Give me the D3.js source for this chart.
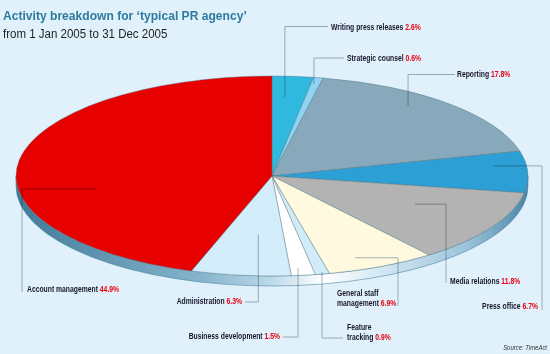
<!DOCTYPE html>
<html>
<head>
<meta charset="utf-8">
<script src="https://cdn.jsdelivr.net/npm/d3@7"></script>
<style>
  html, body { margin: 0; padding: 0; background: #e0f1fc; }
  svg { display: block; font-family: "Liberation Sans Narrow", "Arial Narrow", sans-serif; }
  .lbl { font-size: 8.5px; font-weight: bold; fill: #15152a; }
  .pct { fill: #e8000f; }
  .leader { fill: none; stroke: #a8b4be; stroke-width: 1; mix-blend-mode: multiply; }
</style>
</head>
<body>
<div id="chart"></div>
<script>
// activity shares, clockwise from 12 o'clock
const categories = [
    'Writing press releases', 'Strategic counsel', 'Reporting', 'Press office',
    'Media relations', 'General staff management', 'Feature tracking',
    'Business development', 'Administration', 'Account management'
];
const shares = [2.6, 0.6, 17.8, 6.7, 11.8, 6.9, 0.9, 1.5, 6.3, 44.9];
const sliceColors = ['#30b9de', '#8fd4f2', '#87a9bb', '#2ca0d4', '#b3b3b3',
    '#fffadf', '#d2ebf8', '#ffffff', '#d3edfa', '#e60000'];

const title = 'Activity breakdown for \u2018typical PR agency\u2019';
const subtitle = 'from 1 Jan 2005 to 31 Dec 2005';
const source = 'Source: TimeAct';

// callout layout: t = position inside slice, f = radius fraction,
// elbow 'v' = vertical first, 'h' = horizontal first
const callouts = [
    {t: .39, f: .79, elbow: 'v', end: [328, 26.5], x: 331, y: 29.5, anchor: 'start', lines: 1},
    {t: .34, f: .935, elbow: 'v', end: [344, 58], x: 347, y: 60.5, anchor: 'start', lines: 1},
    {t: .40, f: .88, elbow: 'v', end: [455, 74.5], x: 457, y: 77, anchor: 'start', lines: 1},
    {t: .32, f: .87, elbow: 'h', end: [542, 310], x: 538, y: 309, anchor: 'end', lines: 1},
    {t: .40, f: .625, elbow: 'h', end: [446, 283], x: 450, y: 284, anchor: 'start', lines: 1},
    {t: .65, f: .88, elbow: 'h', end: [398, 306], x: 337, y: 296, anchor: 'start', lines: 2},
    {t: .45, f: .98, elbow: 'v', end: [343, 338], x: 347, y: 330, anchor: 'start', lines: 2},
    {t: .63, f: .925, elbow: 'v', end: [283, 337], x: 280, y: 339, anchor: 'end', lines: 1},
    {t: .42, f: .59, elbow: 'v', end: [245, 302], x: 242, y: 304, anchor: 'end', lines: 1},
    {t: .377, f: .70, elbow: 'h', end: [22, 292], x: 27, y: 292, anchor: 'start', lines: 1}
];

const width = 550, height = 354;
const cx = 272, cy = 176, rx = 256, ry = 100, depth = 10;
const labelSqueeze = 0.8;

const svg = d3.select('#chart').append('svg')
    .attr('width', width)
    .attr('height', height);

svg.append('rect')
    .attr('width', width)
    .attr('height', height)
    .attr('fill', '#e0f1fc');

// gradient for the pie's side wall
const grad = svg.append('defs').append('linearGradient')
    .attr('id', 'rim')
    .attr('gradientUnits', 'userSpaceOnUse')
    .attr('x1', cx - rx).attr('x2', cx + rx)
    .attr('y1', 0).attr('y2', 0);
[[0, '#3f7a9a'], [.36, '#86b4cc'], [.5, '#bcd9e8'], [.6, '#ffffff'],
 [.7, '#d8eaf4'], [.88, '#9cc4da'], [1, '#4a86a8']].forEach(s => {
    grad.append('stop').attr('offset', s[0]).attr('stop-color', s[1]);
});

svg.append('path')
    .attr('d', `M${cx + rx},${cy} L${cx + rx},${cy + depth}
        A${rx},${ry} 0 0 1 ${cx - rx},${cy + depth} L${cx - rx},${cy}
        A${rx},${ry} 0 0 0 ${cx + rx},${cy} Z`)
    .attr('fill', 'url(#rim)')
    .attr('stroke', '#4f86a4')
    .attr('stroke-width', 0.6);

const data = categories.map((c, i) => ({name: c, value: shares[i], color: sliceColors[i]}));

const pie = d3.pie()
    .sort(null)
    .value(d => d.value);
const arcs = pie(data);

const arc = d3.arc()
    .innerRadius(0)
    .outerRadius(rx);

const face = svg.append('g')
    .attr('transform', `translate(${cx},${cy}) scale(1,${ry / rx})`);

face.selectAll('path')
    .data(arcs)
    .join('path')
        .attr('d', arc)
        .attr('fill', d => d.data.color)
        .attr('stroke', '#50707f')
        .attr('stroke-opacity', 0.7)
        .attr('stroke-width', 0.6)
        .attr('vector-effect', 'non-scaling-stroke');

// point on the tilted disc at angle a (radians, clockwise from top), radius fraction f
const discPoint = (a, f) => [cx + rx * f * Math.sin(a), cy - ry * f * Math.cos(a)];

const leaders = svg.append('g');
arcs.forEach((d, i) => {
    const c = callouts[i];
    const a = d.startAngle + c.t * (d.endAngle - d.startAngle);
    const p = discPoint(a, c.f);
    const mid = c.elbow === 'v' ? [p[0], c.end[1]] : [c.end[0], p[1]];
    leaders.append('path')
        .attr('class', 'leader')
        .attr('d', d3.line()([p, mid, c.end]));
});

const labels = svg.append('g');
arcs.forEach((d, i) => {
    const c = callouts[i];
    const words = d.data.name.split(' ');
    const lineTexts = c.lines === 2
        ? [words.slice(0, words.length - 1).join(' '), words[words.length - 1]]
        : [d.data.name];
    const text = labels.append('text')
        .attr('class', 'lbl')
        .attr('text-anchor', c.anchor)
        .attr('transform', `translate(${c.x},${c.y}) scale(${labelSqueeze},1)`);
    lineTexts.forEach((t, j) => {
        const ts = text.append('tspan')
            .attr('x', 0)
            .attr('y', j * 10)
            .text(t + (j === lineTexts.length - 1 ? ' ' : ''));
        if (j === lineTexts.length - 1) {
            ts.append('tspan')
                .attr('class', 'pct')
                .text(d3.format('.1f')(d.data.value) + '%');
        }
    });
});

svg.append('text')
    .attr('transform', 'translate(3,20) scale(0.93,1)')
    .attr('font-size', 13)
    .attr('font-weight', 'bold')
    .attr('fill', '#2d7a9e')
    .text(title);

svg.append('text')
    .attr('transform', 'translate(3,38) scale(0.96,1)')
    .attr('font-size', 12)
    .attr('fill', '#1e1e1e')
    .text(subtitle);

svg.append('text')
    .attr('transform', 'translate(547,350) scale(0.85,1)')
    .attr('text-anchor', 'end')
    .attr('font-size', 7)
    .attr('font-style', 'italic')
    .attr('fill', '#333')
    .text(source);
</script>
</body>
</html>
